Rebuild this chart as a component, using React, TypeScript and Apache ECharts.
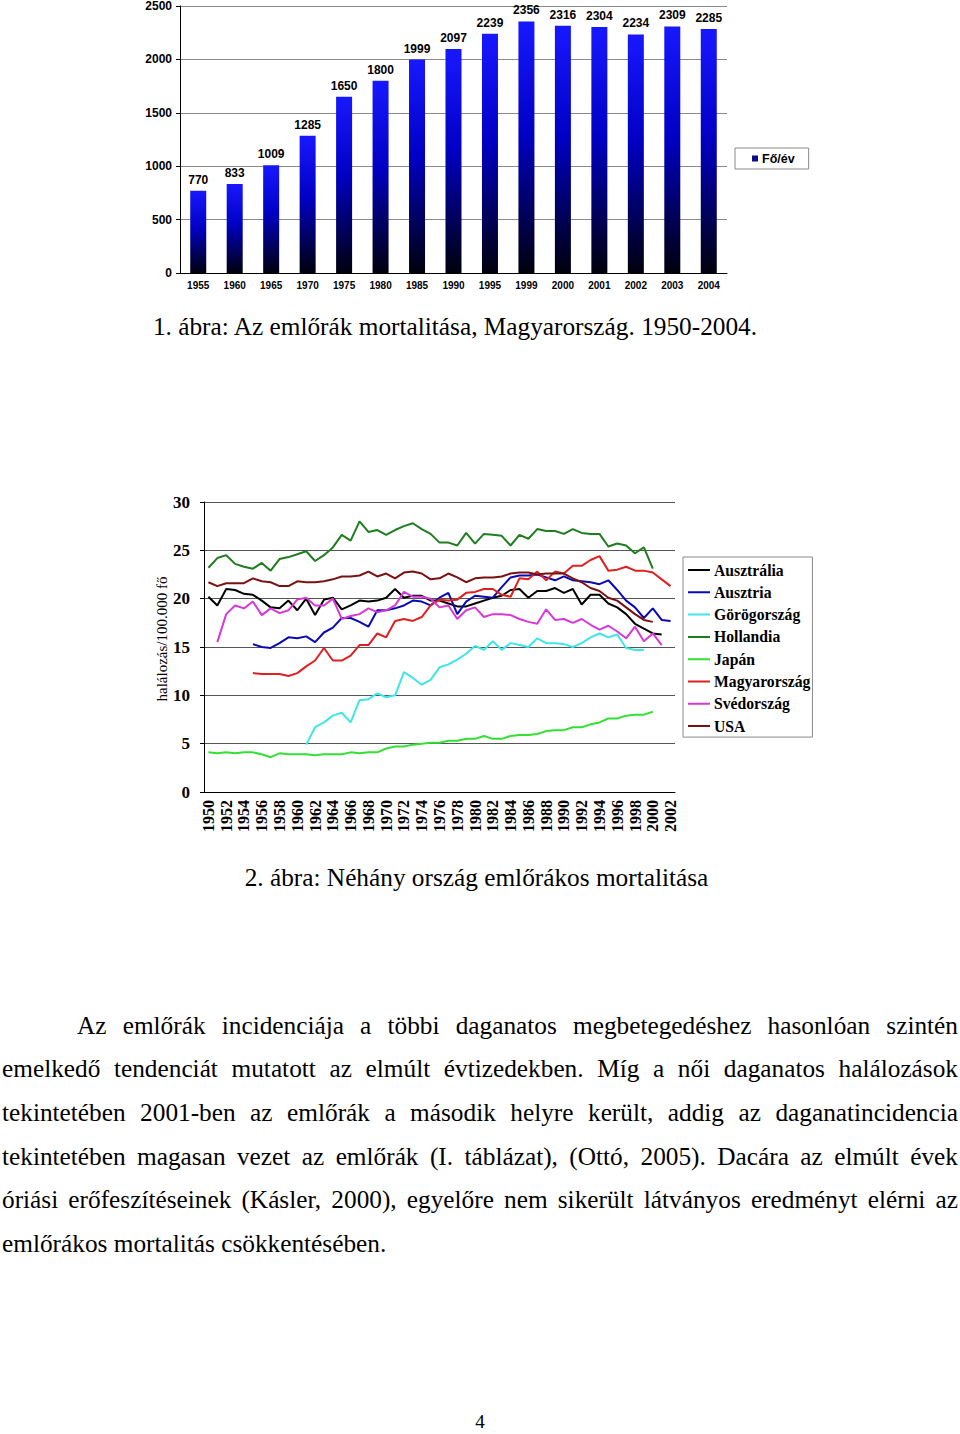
import React, { useEffect, useRef } from "react";
import * as echarts from "echarts";

const barYears = ["1955", "1960", "1965", "1970", "1975", "1980", "1985", "1990", "1995", "1999", "2000", "2001", "2002", "2003", "2004"];
const barValues = [770, 833, 1009, 1285, 1650, 1800, 1999, 2097, 2239, 2356, 2316, 2304, 2234, 2309, 2285];
const barSeriesName = "Fő/év";

const lineYears = [
  "1950", "1951", "1952", "1953", "1954", "1955", "1956", "1957", "1958", "1959",
  "1960", "1961", "1962", "1963", "1964", "1965", "1966", "1967", "1968", "1969",
  "1970", "1971", "1972", "1973", "1974", "1975", "1976", "1977", "1978", "1979",
  "1980", "1981", "1982", "1983", "1984", "1985", "1986", "1987", "1988", "1989",
  "1990", "1991", "1992", "1993", "1994", "1995", "1996", "1997", "1998", "1999",
  "2000", "2001", "2002",
];

const countries = ["Ausztrália", "Ausztria", "Görögország", "Hollandia", "Japán", "Magyarország", "Svédország", "USA"];
const countryColors = ["#000000", "#0a0ab4", "#3ee6e6", "#1e7d1e", "#33e033", "#e02020", "#d838d8", "#7a1212"];

const ausztralia = [
  20.2, 19.3, 21.0, 20.9, 20.5, 20.4, 19.8, 19.1, 19.0, 19.8,
  18.8, 20.0, 18.3, 19.9, 20.1, 18.9, 19.3, 19.8, 19.7, 19.8,
  20.1, 21.0, 20.1, 20.3, 20.3, 19.8, 19.8, 19.5, 19.2, 19.2,
  19.5, 19.8, 20.1, 20.3, 20.9, 21.0, 20.1, 20.8, 20.8, 21.1,
  20.6, 21.0, 19.4, 20.4, 20.4, 19.5, 19.1, 18.4, 17.4, 16.9,
  16.4, 16.3, null,
];
const ausztria = [
  null, null, null, null, null, 15.3, 15.0, 14.9, 15.4, 16.0,
  15.9, 16.1, 15.5, 16.5, 17.0, 18.0, 18.0, 17.6, 17.1, 18.8,
  18.8, 19.0, 19.3, 19.8, 19.7, 19.3, 20.1, 20.6, 18.4, 19.7,
  20.3, 20.2, 20.1, 21.2, 22.2, 22.4, 22.4, 22.5, 22.2, 21.9,
  22.3, 21.9, 21.8, 21.7, 21.5, 21.9, 20.9, 19.8, 19.1, 18.0,
  19.0, 17.8, 17.7,
];
const gorogorszag = [
  null, null, null, null, null, null, null, null, null, null,
  null, 4.9, 6.7, 7.2, 7.9, 8.2, 7.2, 9.5, 9.6, 10.2,
  9.8, 10.0, 12.4, 11.8, 11.1, 11.6, 12.9, 13.2, 13.7, 14.3,
  15.1, 14.7, 15.6, 14.7, 15.4, 15.2, 15.0, 15.9, 15.4, 15.4,
  15.3, 15.0, 15.4, 16.0, 16.4, 16.0, 16.3, 14.9, 14.7, 14.7,
  null, null, null,
];
const hollandia = [
  23.2, 24.2, 24.5, 23.6, 23.3, 23.1, 23.7, 22.9, 24.1, 24.3,
  24.6, 24.9, 23.9, 24.5, 25.3, 26.6, 26.0, 28.0, 26.9, 27.1,
  26.6, 27.1, 27.5, 27.8, 27.2, 26.7, 25.8, 25.8, 25.5, 26.8,
  25.7, 26.7, 26.6, 26.5, 25.5, 26.6, 26.2, 27.2, 27.0, 27.0,
  26.7, 27.2, 26.8, 26.7, 26.7, 25.4, 25.7, 25.5, 24.7, 25.3,
  23.1, null, null,
];
const japan = [
  4.1, 4.0, 4.1, 4.0, 4.1, 4.1, 3.9, 3.6, 4.0, 3.9,
  3.9, 3.9, 3.8, 3.9, 3.9, 3.9, 4.1, 4.0, 4.1, 4.1,
  4.5, 4.7, 4.7, 4.9, 5.0, 5.1, 5.1, 5.3, 5.3, 5.5,
  5.5, 5.8, 5.5, 5.5, 5.8, 5.9, 5.9, 6.0, 6.3, 6.4,
  6.4, 6.7, 6.7, 7.0, 7.2, 7.6, 7.6, 7.9, 8.0, 8.0,
  8.3, null, null,
];
const magyarorszag = [
  null, null, null, null, null, 12.3, 12.2, 12.2, 12.2, 12.0,
  12.3, 13.0, 13.6, 14.9, 13.6, 13.6, 14.1, 15.2, 15.2, 16.4,
  16.0, 17.7, 17.9, 17.7, 18.1, 19.3, 19.9, 19.8, 19.9, 20.6,
  20.7, 21.0, 21.0, 20.4, 20.2, 22.1, 22.0, 22.8, 21.9, 22.8,
  22.6, 23.4, 23.4, 24.0, 24.4, 22.9, 23.0, 23.3, 22.9, 22.9,
  22.7, 22.0, 21.3,
];
const svedorszag = [
  null, 15.5, 18.4, 19.3, 19.0, 19.7, 18.3, 19.0, 18.5, 18.8,
  19.9, 20.1, 19.3, 19.3, 20.0, 17.9, 18.2, 18.4, 19.0, 18.6,
  18.8, 19.3, 20.7, 20.2, 20.2, 20.0, 19.1, 19.3, 17.9, 18.8,
  19.1, 18.1, 18.4, 18.4, 18.3, 17.9, 17.6, 17.4, 18.9, 17.8,
  17.9, 17.5, 17.9, 17.3, 16.8, 17.2, 16.6, 15.9, 17.1, 15.6,
  16.4, 15.2, null,
];
const usa = [
  21.7, 21.3, 21.6, 21.6, 21.6, 22.1, 21.8, 21.7, 21.3, 21.3,
  21.8, 21.7, 21.7, 21.8, 22.0, 22.3, 22.3, 22.4, 22.8, 22.3,
  22.6, 22.1, 22.7, 22.8, 22.6, 22.0, 22.1, 22.6, 22.2, 21.7,
  22.1, 22.2, 22.2, 22.3, 22.6, 22.7, 22.7, 22.5, 22.6, 22.6,
  22.6, 22.1, 21.7, 21.1, 20.8, 20.1, 19.8, 19.1, 18.4, 17.8,
  17.6, null, null,
];
const countrySeries = [ausztralia, ausztria, gorogorszag, hollandia, japan, magyarorszag, svedorszag, usa];

const caption1 = "1. ábra: Az emlőrák mortalitása, Magyarország. 1950-2004.";
const caption2 = "2. ábra: Néhány ország emlőrákos mortalitása";
const paragraphLines = [
  "Az emlőrák incidenciája a többi daganatos megbetegedéshez hasonlóan szintén",
  "emelkedő tendenciát mutatott az elmúlt évtizedekben. Míg a női daganatos halálozások",
  "tekintetében 2001-ben az emlőrák a második helyre került, addig az daganatincidencia",
  "tekintetében magasan vezet az emlőrák (I. táblázat), (Ottó, 2005). Dacára az elmúlt évek",
  "óriási erőfeszítéseinek (Kásler, 2000), egyelőre nem sikerült látványos eredményt elérni az",
  "emlőrákos mortalitás csökkentésében.",
];
const pageNumber = "4";

const SANS = '"Liberation Sans", Arial, sans-serif';
const SERIF = '"Liberation Serif", "Times New Roman", serif';
const LINE_ICON = "path://M0,0 L0.01,0 L0.01,0.01 Z M0,6 L22,6 L22,8 L0,8 Z M21.99,14 L22,14 L22,13.99 Z";

export default function App() {
  const ref = useRef<HTMLDivElement>(null);

  useEffect(() => {
    if (!ref.current) return;
    const chart = echarts.init(ref.current, undefined, { renderer: "svg" });
    const barGradient = new echarts.graphic.LinearGradient(0, 0, 0, 1, [
      { offset: 0, color: "#1818ff" },
      { offset: 0.45, color: "#0000c4" },
      { offset: 1, color: "#00000c" },
    ]);
    const option: any = {
      animation: false,
      grid: [
        { left: 180, top: 5, width: 547, height: 268 },
        { left: 204, top: 502, width: 471, height: 290 },
      ],
      xAxis: [
        {
          gridIndex: 0,
          type: "category",
          data: barYears,
          axisLine: { lineStyle: { color: "#000", width: 1 } },
          axisTick: { length: 4, lineStyle: { color: "#000" } },
          axisLabel: { color: "#000", fontFamily: SANS, fontWeight: "bold", fontSize: 10, margin: 7, interval: 0 },
        },
        {
          gridIndex: 1,
          type: "category",
          data: lineYears,
          axisLine: { lineStyle: { color: "#000", width: 1 } },
          axisTick: { length: 4, interval: 0, lineStyle: { color: "#000" } },
          axisLabel: { color: "#000", fontFamily: SERIF, fontWeight: "bold", fontSize: 16, margin: 8, interval: 1, rotate: 90 },
        },
      ],
      yAxis: [
        {
          gridIndex: 0,
          type: "value",
          min: 0,
          max: 2500,
          interval: 500,
          axisLine: { show: true, lineStyle: { color: "#000" } },
          axisTick: { show: true, length: 4, lineStyle: { color: "#000" } },
          axisLabel: { color: "#000", fontFamily: SANS, fontWeight: "bold", fontSize: 12, margin: 8, formatter: (v: number) => String(v) },
          splitLine: { lineStyle: { color: "#8a8a8a", width: 1 } },
        },
        {
          gridIndex: 1,
          type: "value",
          min: 0,
          max: 30,
          interval: 5,
          name: "halálozás/100.000 fő",
          nameLocation: "middle",
          nameGap: 29,
          nameRotate: 90,
          nameTextStyle: { color: "#000", fontFamily: SERIF, fontSize: 15, padding: [0, 0, 0, 16] },
          axisLine: { show: true, lineStyle: { color: "#000" } },
          axisTick: { show: true, length: 4, lineStyle: { color: "#000" } },
          axisLabel: { color: "#000", fontFamily: SERIF, fontWeight: "bold", fontSize: 17, margin: 14 },
          splitLine: { lineStyle: { color: "#555", width: 1 } },
        },
      ],
      legend: [
        {
          data: [{ name: barSeriesName, itemStyle: { color: "#0a0a8c" } }],
          left: 735,
          top: 148,
          orient: "vertical",
          icon: "rect",
          itemWidth: 6,
          itemHeight: 6,
          itemGap: 5,
          padding: [4, 14, 4, 17],
          borderColor: "#8a8a8a",
          borderWidth: 1,
          textStyle: { color: "#000", fontFamily: SANS, fontWeight: "bold", fontSize: 12.5, padding: [0, 0, 0, -1] },
        },
        {
          data: countries.map((name) => ({ name, icon: LINE_ICON })),
          left: 683,
          top: 557,
          orient: "vertical",
          itemWidth: 22,
          itemHeight: 14,
          itemGap: 6.3,
          padding: [5, 2, 3, 5],
          borderColor: "#8a8a8a",
          borderWidth: 1,
          textStyle: { color: "#000", fontFamily: SERIF, fontWeight: "bold", fontSize: 15.7, padding: [0, 0, 0, -1] },
        },
      ],
      series: [
        {
          name: barSeriesName,
          type: "bar",
          xAxisIndex: 0,
          yAxisIndex: 0,
          data: barValues,
          barWidth: 16,
          itemStyle: { color: barGradient },
          label: {
            show: true,
            position: "top",
            distance: 5,
            color: "#000",
            fontFamily: SANS,
            fontWeight: "bold",
            fontSize: 12,
          },
        },
        ...countries.map((name, i) => ({
          name,
          type: "line",
          xAxisIndex: 1,
          yAxisIndex: 1,
          data: countrySeries[i],
          symbol: "none",
          color: countryColors[i],
          itemStyle: { color: countryColors[i] },
          lineStyle: { color: countryColors[i], width: 2 },
        })),
      ],
    };
    chart.setOption(option);
    return () => chart.dispose();
  }, []);

  const textBase: React.CSSProperties = {
    position: "absolute",
    fontFamily: SERIF,
    fontSize: 25.3,
    lineHeight: "30px",
    color: "#000",
    whiteSpace: "nowrap",
  };
  const lineCenters = [1026, 1069, 1113, 1157, 1200, 1244];

  return (
    <div style={{ position: "absolute", left: 0, top: 0, width: 960, height: 1434, background: "#fff", overflow: "hidden" }}>
      <div ref={ref} style={{ position: "absolute", left: 0, top: 0, width: 960, height: 860 }} />
      <div style={{ ...textBase, left: 0, width: 910, top: 327 - 16, textAlign: "center" }}>{caption1}</div>
      <div style={{ ...textBase, left: 0, width: 953, top: 878 - 16, textAlign: "center" }}>{caption2}</div>
      {paragraphLines.map((line, i) => {
        const last = i === paragraphLines.length - 1;
        const left = i === 0 ? 77 : 2;
        return (
          <div
            key={i}
            style={{
              ...textBase,
              whiteSpace: "normal",
              left,
              width: 958 - left,
              top: lineCenters[i] - 16,
              textAlign: last ? "left" : "justify",
              textAlignLast: last ? "left" : "justify",
            } as React.CSSProperties}
          >
            {line}
          </div>
        );
      })}
      <div style={{ ...textBase, fontSize: 19, lineHeight: "16px", height: 16, left: 0, width: 960, top: 1414, textAlign: "center" }}>{pageNumber}</div>
    </div>
  );
}
